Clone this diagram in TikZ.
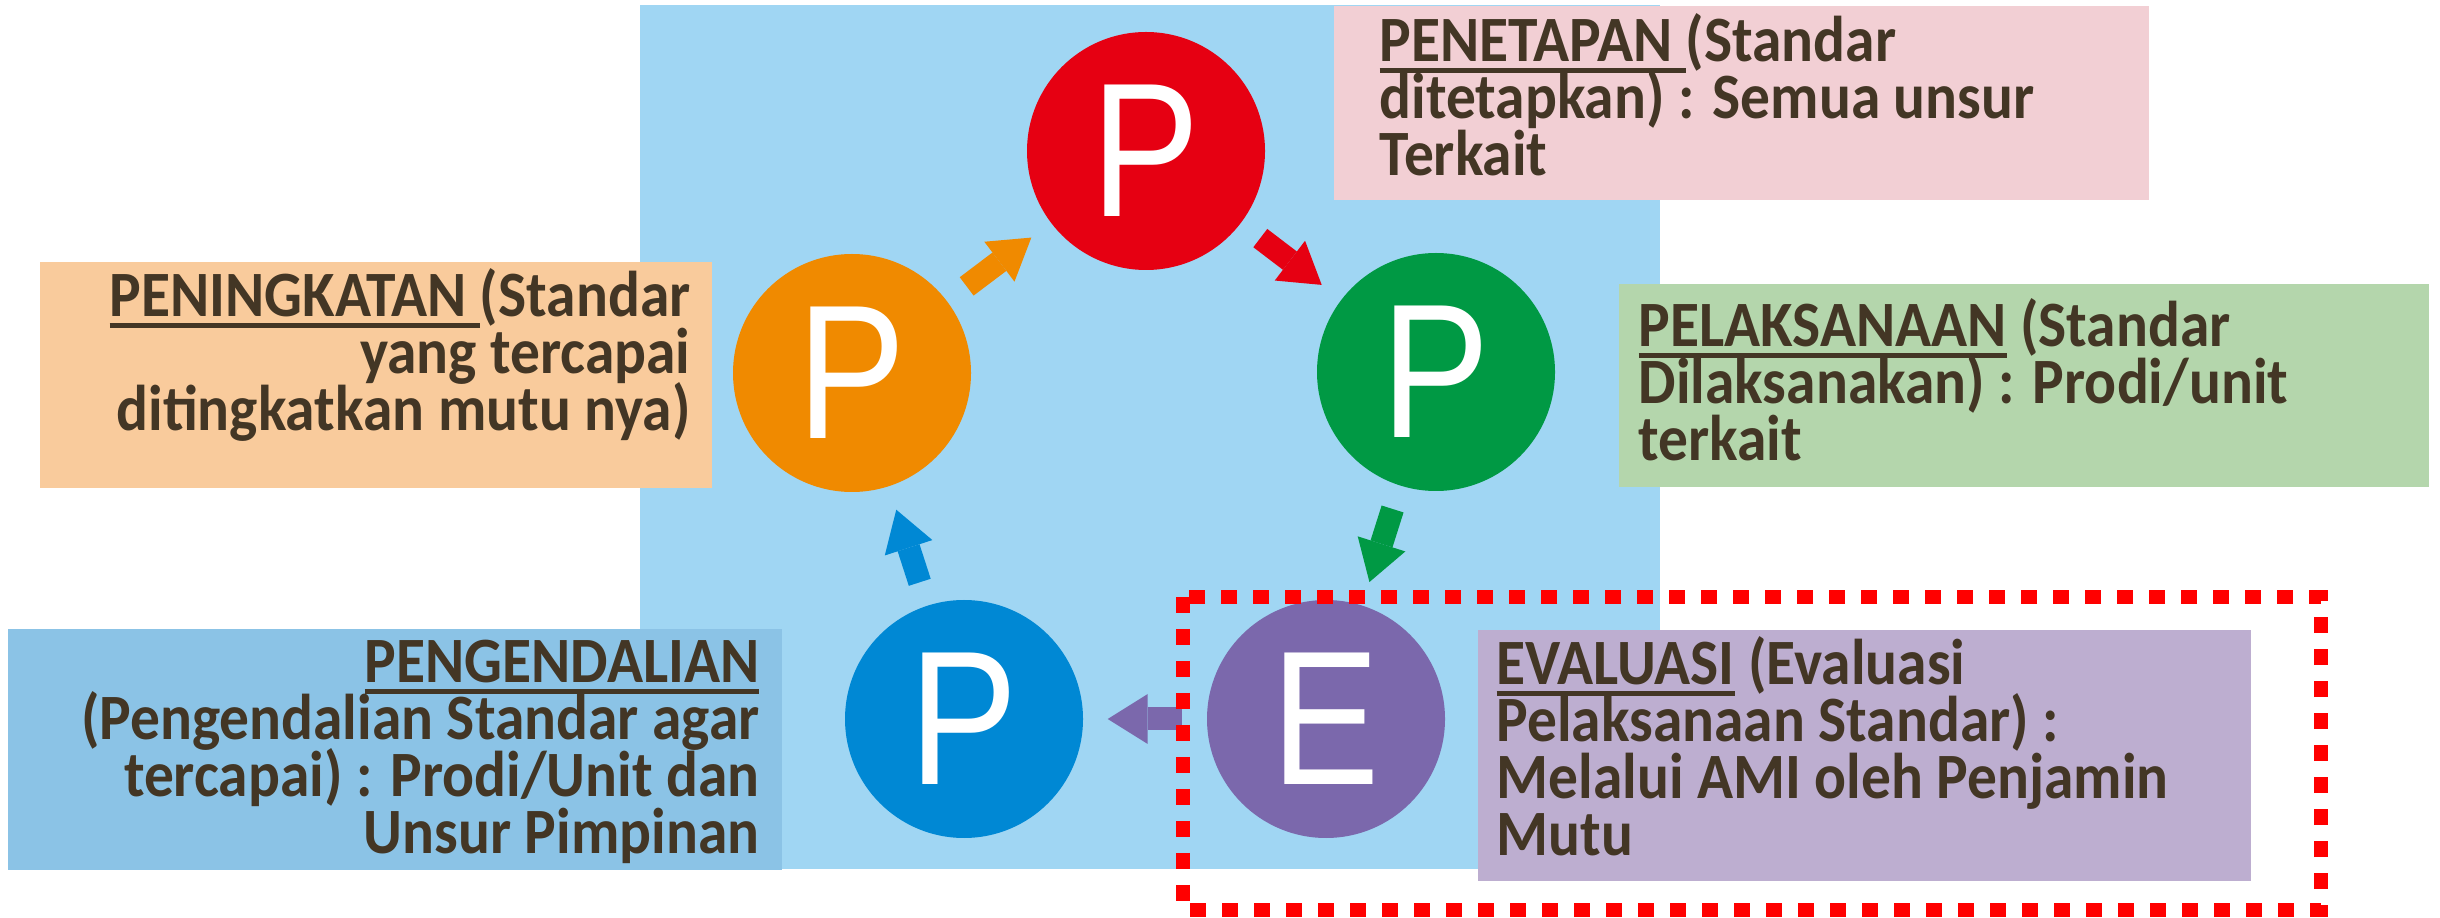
\documentclass[tikz,border=0pt]{standalone}
\usepackage{fontspec}
\setmainfont{Carlito}[FakeStretch=0.92]
\newfontfamily\circfont{Liberation Sans}[FakeStretch=0.85]
\usetikzlibrary{arrows.meta}
\definecolor{bgblue}{RGB}{160,214,243}
\definecolor{cred}{RGB}{230,0,18}
\definecolor{cgreen}{RGB}{0,153,68}
\definecolor{cpurple}{RGB}{123,104,172}
\definecolor{cblue}{RGB}{0,136,212}
\definecolor{corange}{RGB}{240,138,0}
\definecolor{bpink}{RGB}{242,207,212}
\definecolor{borange}{RGB}{249,203,156}
\definecolor{bgreen}{RGB}{180,214,172}
\definecolor{bblue}{RGB}{139,195,230}
\definecolor{bpurple}{RGB}{189,174,208}
\definecolor{txtc}{RGB}{67,54,37}
\definecolor{dashred}{RGB}{255,0,0}
\newcommand\myul[1]{\setbox0\hbox{#1}\rlap{\vrule width\wd0 height-1.7pt depth3.0pt}\box0\relax}
\newcommand\llines[1]{\vtop{\baselineskip=16.2pt\lineskiplimit=-50pt\halign{##\hfil\cr#1\crcr}}}
\newcommand\rlines[1]{\vtop{\baselineskip=16.2pt\lineskiplimit=-50pt\halign{\hfil##\cr#1\crcr}}}
\begin{document}
\begin{tikzpicture}[x=0.1mm, y=-0.1mm,
  circ/.style={circle, minimum size=23.8mm, inner sep=0pt, text=white,
    font=\circfont\fontsize{54.4pt}{60pt}\selectfont},
  boxbg/.style={rectangle, inner sep=0pt, anchor=north west, draw=none},
  txtlbl/.style={inner sep=0pt, text=txtc, font=\bfseries\fontsize{18.4pt}{16.2pt}\selectfont},
  cyc/.style={line width=2.3mm, -{Triangle[length=4mm,width=5mm,line width=0pt]},
    shorten <=2.4mm, shorten >=2.4mm}
]
\useasboundingbox (0,0) rectangle (2440,918);
\fill[white] (0,0) rectangle (2440,918);
\fill[bgblue] (640,5) rectangle (1660,869);
% circles
\node[circ, fill=cred] (pen) at (1146,151) {P};
\node[circ, fill=cgreen] (pel) at (1436,372) {P};
\node[circ, fill=cpurple] (eva) at (1326,719) {E};
\node[circ, fill=cblue] (pgd) at (964,719) {P};
\node[circ, fill=corange] (pnk) at (852,373) {P};
% cycle arrows
\draw[cyc, corange] (pnk) -- (pen);
\draw[cyc, cred] (pen) -- (pel);
\draw[cyc, cgreen] (pel) -- (eva);
\draw[cyc, cpurple] (eva) -- (pgd);
\draw[cyc, cblue] (pgd) -- (pnk);
% text boxes
\node[boxbg, fill=bpink, minimum width=81.5mm, minimum height=19.4mm] (bpen) at (1333,5) {};
\node[boxbg, fill=borange, minimum width=67.2mm, minimum height=22.6mm] (bpnk) at (39,261) {};
\node[boxbg, fill=bgreen, minimum width=81mm, minimum height=20.3mm] (bpel) at (1618,283) {};
\node[boxbg, fill=bblue, minimum width=77.4mm, minimum height=24.1mm] (bpgd) at (7,628) {};
\node[boxbg, fill=bpurple, minimum width=77.3mm, minimum height=25.1mm] (beva) at (1477,629) {};
% texts
\node[txtlbl, anchor=base west] (tpen) at (1379,62)
  {\llines{\myul{PENETAPAN\ }(Standar\cr ditetapkan) : Semua unsur\cr Terkait}};
\node[txtlbl, anchor=base west] (tpel) at (1638,347)
  {\llines{\myul{PELAKSANAAN} (Standar\cr Dilaksanakan) : Prodi/unit\cr terkait}};
\node[txtlbl, anchor=base east] (tpnk) at (691,317)
  {\rlines{\myul{PENINGKATAN\ }(Standar\cr yang tercapai\cr ditingkatkan mutu nya)}};
\node[txtlbl, anchor=base east] (tpgd) at (760,683)
  {\rlines{\myul{PENGENDALIAN}\cr (Pengendalian Standar agar\cr tercapai) : Prodi/Unit dan\cr Unsur Pimpinan}};
\node[txtlbl, anchor=base west] (teva) at (1496,685)
  {\llines{\myul{EVALUASI} (Evaluasi\cr Pelaksanaan Standar) :\cr Melalui AMI oleh Penjamin\cr Mutu}};
% dashed frame
\draw[dashred, line width=1.4mm, dash pattern=on 1.6mm off 1.6mm] (1183,597) rectangle (2321,910);
\end{tikzpicture}
\end{document}
